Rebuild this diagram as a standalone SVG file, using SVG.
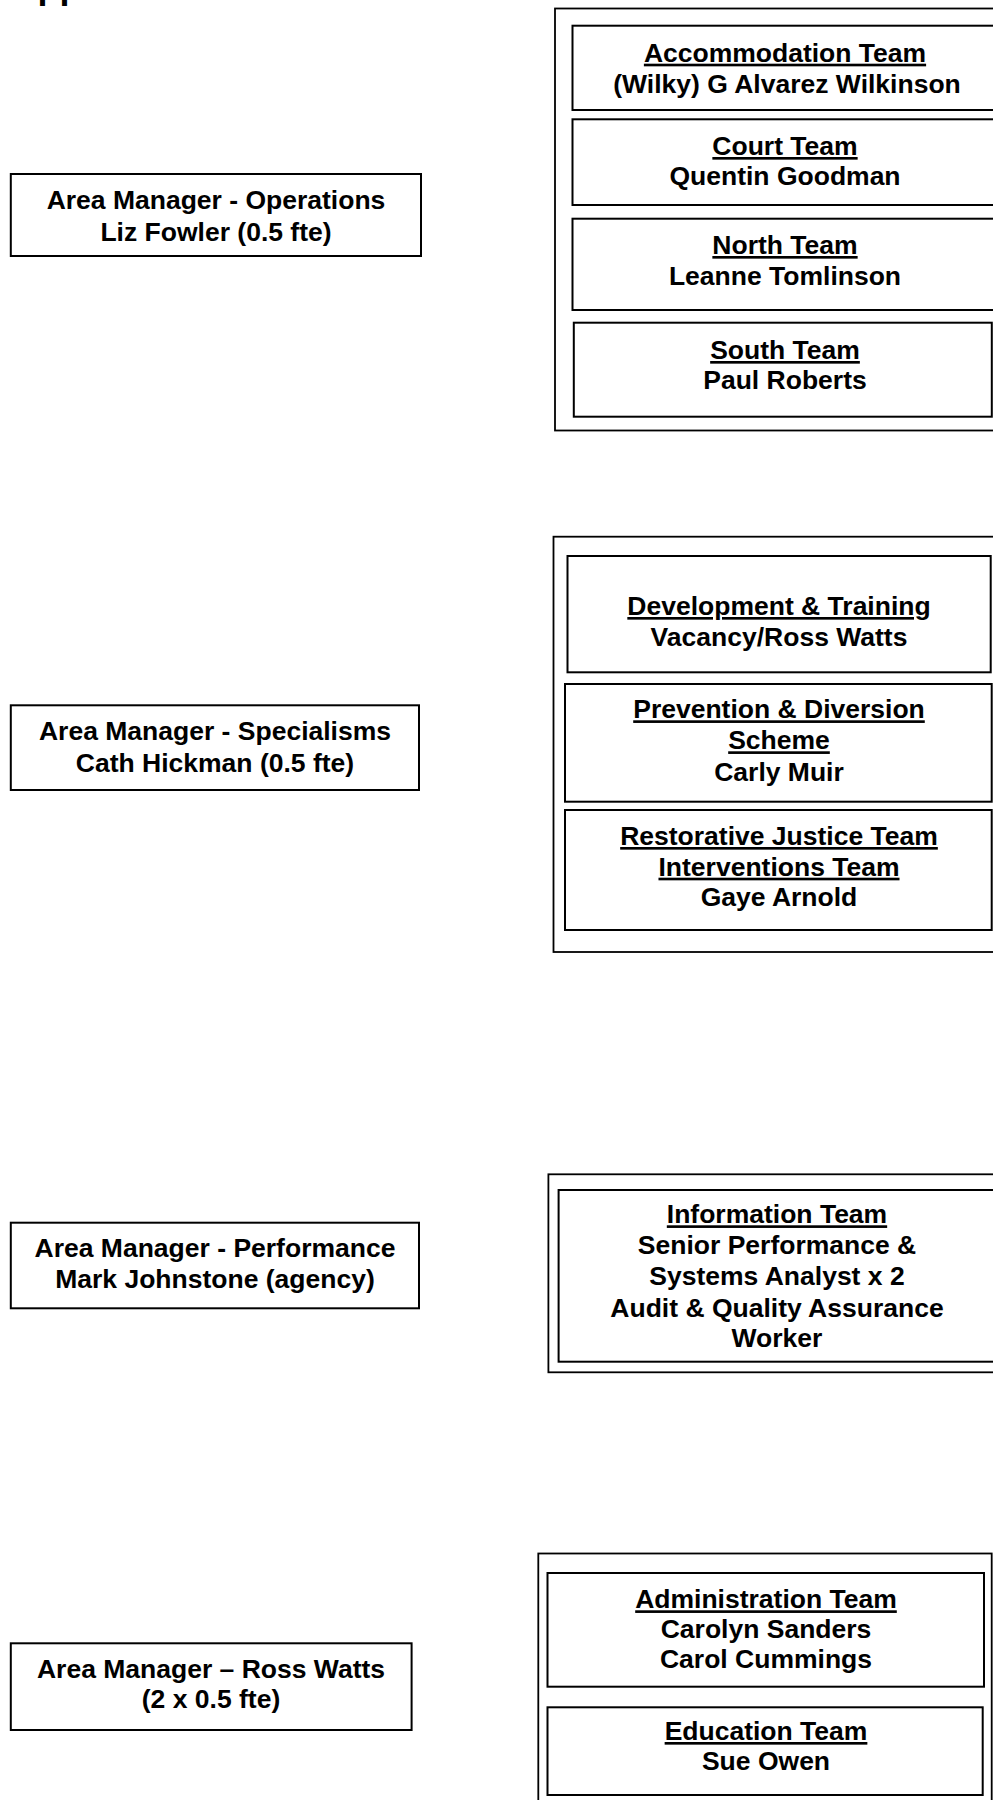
<svg xmlns="http://www.w3.org/2000/svg" width="993" height="1800" viewBox="0 0 993 1800">
<style>
text{font-family:"Liberation Sans",Arial,sans-serif;font-weight:bold;font-size:26.5px;fill:#000;text-anchor:middle}
.u{text-decoration:underline}
.box{fill:#fff;stroke:#000;stroke-width:2}
.outer{fill:#fff;stroke:#000;stroke-width:1.8}
</style>
<rect width="993" height="1800" fill="#fff"/>
<text x="11.5" y="-2.5" style="text-anchor:start;font-size:36px">Appendix</text>

<g id="group-operations">
<rect class="outer" x="555" y="8.5" width="460" height="422"/>
<g id="node-accommodation"><rect class="box" x="572.5" y="25.7" width="440" height="84.3"/>
<text x="785" y="61.7" class="u">Accommodation Team</text><text x="787" y="93">(Wilky) G Alvarez Wilkinson</text></g>
<g id="node-court"><rect class="box" x="572.5" y="119.3" width="440" height="85.7"/>
<text x="785" y="155" class="u">Court Team</text><text x="785" y="184.5">Quentin Goodman</text></g>
<g id="node-north"><rect class="box" x="572.5" y="218.7" width="440" height="91.3"/>
<text x="785" y="254" class="u">North Team</text><text x="785" y="285">Leanne Tomlinson</text></g>
<g id="node-south"><rect class="box" x="573.8" y="322.7" width="418" height="94"/>
<text x="785" y="359" class="u">South Team</text><text x="785" y="388.5">Paul Roberts</text></g>
</g>

<g id="node-am-operations"><rect class="box" x="10.8" y="174" width="410.2" height="82"/>
<text x="216" y="209">Area Manager - Operations</text><text x="216" y="241">Liz Fowler (0.5 fte)</text></g>

<g id="group-specialisms">
<rect class="outer" x="553.5" y="536.7" width="460" height="415.3"/>
<g id="node-development"><rect class="box" x="567.5" y="556" width="423.2" height="116.3"/>
<text x="779" y="615" class="u">Development &amp; Training</text><text x="779" y="646">Vacancy/Ross Watts</text></g>
<g id="node-prevention"><rect class="box" x="565" y="684" width="426.7" height="117.7"/>
<text x="779" y="718.3" class="u">Prevention &amp; Diversion</text><text x="779" y="749.3" class="u">Scheme</text><text x="779" y="780.7">Carly Muir</text></g>
<g id="node-restorative"><rect class="box" x="565" y="810" width="426.7" height="120"/>
<text x="779" y="845" class="u">Restorative Justice Team</text><text x="779" y="875.7" class="u">Interventions Team</text><text x="779" y="905.7">Gaye Arnold</text></g>
</g>

<g id="node-am-specialisms"><rect class="box" x="10.8" y="705.3" width="408.2" height="84.7"/>
<text x="215" y="740">Area Manager - Specialisms</text><text x="215" y="771.7">Cath Hickman (0.5 fte)</text></g>

<g id="group-performance">
<rect class="outer" x="548.4" y="1174.3" width="460" height="198"/>
<g id="node-information"><rect class="box" x="558.6" y="1190" width="445" height="171.7"/>
<text x="777" y="1223.3" class="u">Information Team</text><text x="777" y="1254">Senior Performance &amp;</text><text x="777" y="1285">Systems Analyst x 2</text><text x="777" y="1316.7">Audit &amp; Quality Assurance</text><text x="777" y="1346.7">Worker</text></g>
</g>

<g id="node-am-performance"><rect class="box" x="10.8" y="1222.7" width="408.2" height="85.6"/>
<text x="215" y="1257.3">Area Manager - Performance</text><text x="215" y="1288.3">Mark Johnstone (agency)</text></g>

<g id="group-admin">
<rect class="outer" x="538.3" y="1553.5" width="453.4" height="260"/>
<g id="node-administration"><rect class="box" x="547.5" y="1573" width="436.5" height="113.7"/>
<text x="766" y="1608.3" class="u">Administration Team</text><text x="766" y="1638.3">Carolyn Sanders</text><text x="766" y="1668.3">Carol Cummings</text></g>
<g id="node-education"><rect class="box" x="547.5" y="1707.3" width="435.2" height="87.7"/>
<text x="766" y="1740" class="u">Education Team</text><text x="766" y="1770">Sue Owen</text></g>
</g>

<g id="node-am-ross"><rect class="box" x="10.8" y="1643.3" width="400.8" height="86.7"/>
<text x="211" y="1678.3">Area Manager – Ross Watts</text><text x="211" y="1708.3">(2 x 0.5 fte)</text></g>

<g id="connectors"></g>
</svg>
